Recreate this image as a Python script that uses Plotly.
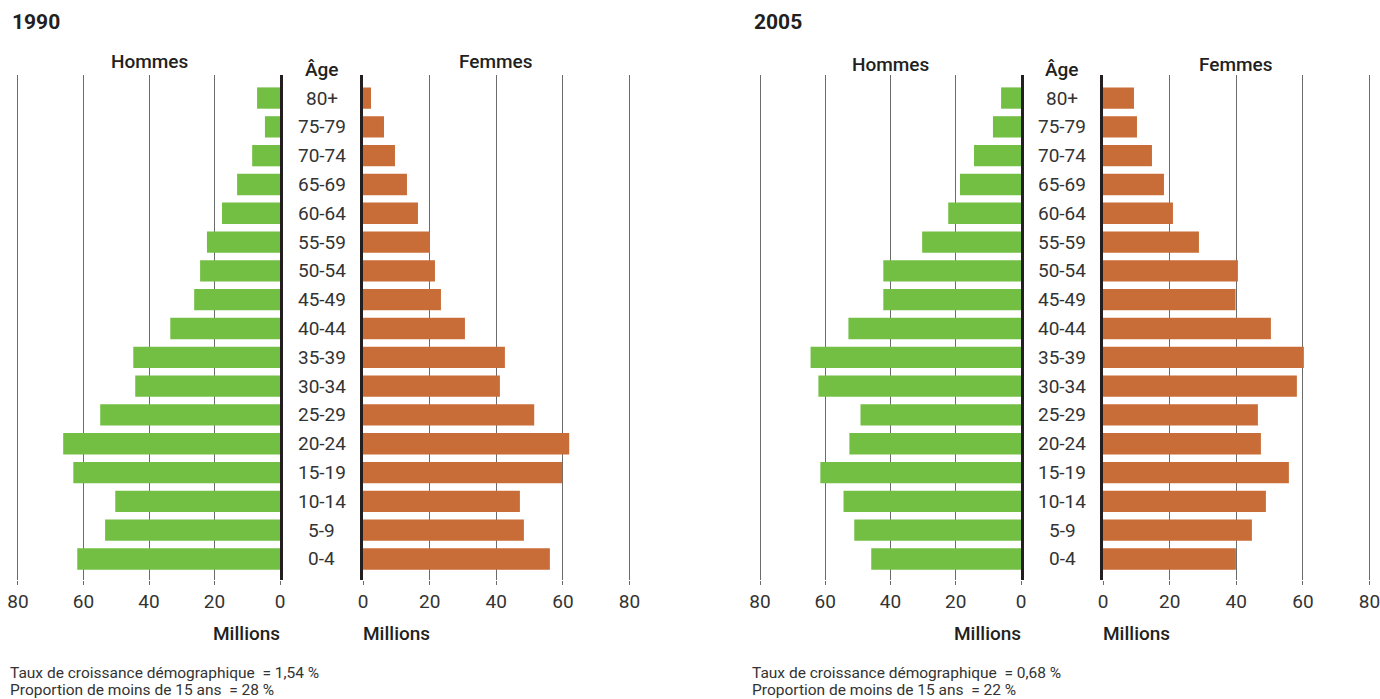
import plotly.graph_objects as go

ages = ["0-4", "5-9", "10-14", "15-19", "20-24", "25-29", "30-34", "35-39",
        "40-44", "45-49", "50-54", "55-59", "60-64", "65-69", "70-74", "75-79", "80+"]

men_1990 = [61.9, 53.4, 50.3, 63.1, 66.2, 54.9, 44.2, 44.8,
            33.5, 26.2, 24.4, 22.3, 17.7, 13.1, 8.5, 4.6, 7.0]
women_1990 = [56.1, 48.3, 47.1, 59.8, 61.9, 51.4, 41.1, 42.6,
              30.6, 23.4, 21.6, 20.1, 16.5, 13.2, 9.6, 6.3, 2.4]
men_2005 = [45.9, 51.1, 54.4, 61.5, 52.6, 49.2, 62.1, 64.5,
            52.9, 42.2, 42.2, 30.3, 22.3, 18.7, 14.4, 8.6, 6.1]
women_2005 = [39.9, 44.7, 48.9, 55.8, 47.4, 46.5, 58.2, 60.3,
              50.4, 39.8, 40.5, 28.8, 21.0, 18.3, 14.7, 10.2, 9.3]

years = ["1990", "2005"]
growth = ["1,54 %", "0,68 %"]
under15 = ["28 %", "22 %"]
ticks = [0, 20, 40, 60, 80]

W, H = 1380, 699
GREEN = "#73BF44"
ORANGE = "#C96D38"
DARK = "#231F20"
TXT = "#333333"
GRID = "#6b6b6b"
FONT = "Roboto, 'Noto Sans', sans-serif"
EXT = 0.6  # small range extension so the 80 gridline is drawn

def px(x):
    return x / W

def py(y):
    return 1 - y / H

ydom = [py(580), py(75)]
yrange = [-0.73, 16.8]

# pixel layout of each pyramid: (men_80, men_zero, women_zero, women_80)
panels = [(18, 280, 363, 629.5), (760, 1021, 1103, 1369.5)]
data = [(men_1990, women_1990), (men_2005, women_2005)]

fig = go.Figure()
layout = {}
annotations = []

ax = 1
for p, ((ml, mz, wz, wr), (men, women)) in enumerate(zip(panels, data)):
    ms = (mz - ml) / 80.0
    ws = (wr - wz) / 80.0
    for side, (d0, d1, vals, color, rng) in enumerate([
            (ml - EXT * ms, mz, men, GREEN, [80 + EXT, 0]),
            (wz, wr + EXT * ws, women, ORANGE, [0, 80 + EXT])]):
        xa = "x" if ax == 1 else f"x{ax}"
        ya = "y" if ax == 1 else f"y{ax}"
        fig.add_trace(go.Bar(
            x=vals, y=ages, orientation="h", marker=dict(color=color, line=dict(width=0)),
            xaxis=xa, yaxis=ya, showlegend=False, hoverinfo="x+y"))
        layout["xaxis" if ax == 1 else f"xaxis{ax}"] = dict(
            domain=[px(d0), px(d1)], range=rng, anchor=ya, automargin=False,
            tickmode="array", tickvals=ticks, ticktext=[str(t) for t in ticks],
            ticklabeloverflow="allow",
            showgrid=True, gridcolor=GRID, gridwidth=1.2,
            zeroline=False, showline=False,
            ticks="outside", ticklen=4, tickcolor=GRID, tickwidth=1.2,
            tickfont=dict(family=FONT, size=19, color=TXT),
            fixedrange=True)
        layout["yaxis" if ax == 1 else f"yaxis{ax}"] = dict(
            domain=ydom, range=yrange, anchor=xa, type="category", automargin=False,
            categoryorder="array", categoryarray=ages,
            side="right" if side == 0 else "left",
            showline=True, linecolor=DARK, linewidth=2.5,
            showgrid=False, zeroline=False, showticklabels=False, ticks="",
            fixedrange=True)
        ax += 1

    mid = (mz + wz) / 2
    ya_name = "y" if p == 0 else f"y{2 * p + 1}"
    for a in ages:
        annotations.append(dict(
            x=px(mid), xref="paper", y=a, yref=ya_name, text=a, showarrow=False,
            xanchor="center", yanchor="middle",
            font=dict(family=FONT, size=19, color=TXT)))
    hy = 62 if p == 0 else 64
    annotations += [
        dict(x=px(ml - 8), y=py(22), text=f"<b>{years[p]}</b>", xanchor="left",
             font=dict(family=FONT, size=21, color=DARK)),
        dict(x=px((ml + mz) / 2), y=py(hy), text="Hommes", xanchor="center",
             font=dict(family=FONT, size=19, color=DARK, weight=500)),
        dict(x=px((wz + wr) / 2), y=py(hy), text="Femmes", xanchor="center",
             font=dict(family=FONT, size=19, color=DARK, weight=500)),
        dict(x=px(mid), y=py(69), text="Âge", xanchor="center",
             font=dict(family=FONT, size=19, color=DARK, weight=500)),
        dict(x=px(mz + 2), y=py(633), text="Millions", xanchor="right",
             font=dict(family=FONT, size=19, color=DARK, weight=500)),
        dict(x=px(wz - 2), y=py(633), text="Millions", xanchor="left",
             font=dict(family=FONT, size=19, color=DARK, weight=500)),
        dict(x=px(ml - 10), y=py(673), text=f"Taux de croissance démographique  = {growth[p]}",
             xanchor="left", font=dict(family=FONT, size=15.5, color=TXT)),
        dict(x=px(ml - 10), y=py(690), text=f"Proportion de moins de 15 ans  = {under15[p]}",
             xanchor="left", font=dict(family=FONT, size=15.5, color=TXT)),
    ]

for a in annotations:
    a.setdefault("xref", "paper")
    a.setdefault("yref", "paper")
    a.setdefault("showarrow", False)
    a.setdefault("yanchor", "middle")

fig.update_layout(
    template="none",
    width=W, height=H,
    margin=dict(l=0, r=0, t=0, b=0, pad=0),
    paper_bgcolor="white", plot_bgcolor="white",
    bargap=0.26,
    annotations=annotations,
    **layout)

fig.write_html(
    "out.html",
    config={"displayModeBar": False},
    post_script="document.body.style.margin='0px';document.body.style.overflow='hidden';")
